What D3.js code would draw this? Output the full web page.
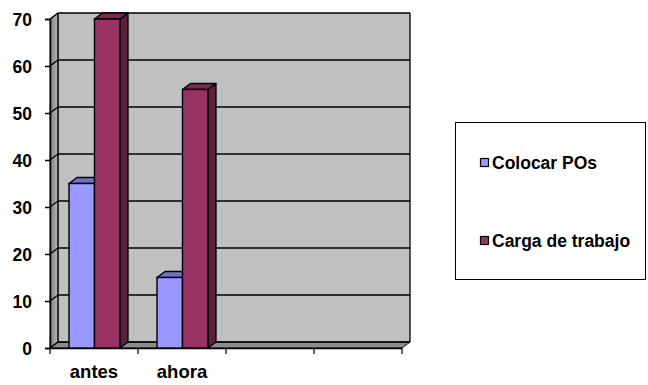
<!DOCTYPE html>
<html>
<head>
<meta charset="utf-8">
<script src="https://cdn.jsdelivr.net/npm/d3@7"></script>
<style>
  body { margin: 0; background: #fff; }
  text { font-family: "Liberation Sans", Arial, sans-serif; font-weight: bold; fill: #000; }
</style>
</head>
<body>
<svg id="chart" width="648" height="385"></svg>
<script>
// Chart data
const categories = ["antes", "ahora", "", ""];
const series = ["Colocar POs", "Carga de trabajo"];
const colocarPOs = [35, 15];
const cargaTrabajo = [70, 55];
const yTicks = [0, 10, 20, 30, 40, 50, 60, 70];

const colors = {
    "Colocar POs": { front: "#9999ff", top: "#7373c4", side: "#5c5ca0" },
    "Carga de trabajo": { front: "#993366", top: "#7a2952", side: "#5e1f3f" }
};

const svg = d3.select("#chart");

// 3D offset (depth)
const dx = 8, dy = -6;

let y = d3.scaleLinear().domain([0, 70]).range([348, 19]);
let x = d3.scaleBand().domain(d3.range(categories.length)).range([50, 402]);
let xSub = d3.scaleBand().domain(series).range([x.bandwidth() * 0.216, x.bandwidth() * 0.795]);

const left = x.range()[0], right = x.range()[1];

// gradient for the side wall
const defs = svg.append("defs");
const grad = defs.append("linearGradient").attr("id", "sideWall");
grad.append("stop").attr("offset", "0%").attr("stop-color", "#7c7c7c");
grad.append("stop").attr("offset", "100%").attr("stop-color", "#b8b8b8");

// Back wall
svg.append("rect")
    .attr("x", left + dx).attr("y", y(70) + dy)
    .attr("width", right - left).attr("height", y(0) - y(70))
    .attr("fill", "#c0c0c0");

// Side wall
svg.append("polygon")
    .attr("points", [[left, y(70)], [left + dx, y(70) + dy], [left + dx, y(0) + dy], [left, y(0)]].join(" "))
    .attr("fill", "url(#sideWall)")
    .attr("stroke", "#000").attr("stroke-width", 1);

// Floor
svg.append("polygon")
    .attr("points", [[left, y(0)], [left + dx, y(0) + dy], [right + dx, y(0) + dy], [right, y(0)]].join(" "))
    .attr("fill", "#8c8c8c")
    .attr("stroke", "#000").attr("stroke-width", 1);

// Gridlines (back wall + side wall)
yTicks.forEach(t => {
    svg.append("line")
        .attr("x1", left + dx).attr("x2", right + dx)
        .attr("y1", y(t) + dy).attr("y2", y(t) + dy)
        .attr("stroke", "#000").attr("stroke-width", 1.6);
    svg.append("line")
        .attr("x1", left).attr("x2", left + dx)
        .attr("y1", y(t)).attr("y2", y(t) + dy)
        .attr("stroke", "#000").attr("stroke-width", 1.3);
});

// Back wall edges
svg.append("line")
    .attr("x1", right + dx).attr("x2", right + dx)
    .attr("y1", y(70) + dy).attr("y2", y(0) + dy)
    .attr("stroke", "#000").attr("stroke-width", 1.3);
svg.append("line")
    .attr("x1", left + dx).attr("x2", left + dx)
    .attr("y1", y(70) + dy).attr("y2", y(0) + dy)
    .attr("stroke", "#000").attr("stroke-width", 1);

// Y axis
const yAxis = svg.append("g").attr("transform", `translate(${left},0)`)
    .call(d3.axisLeft(y).tickValues(yTicks).tickSize(5).tickPadding(13));
yAxis.attr("font-family", null).attr("font-size", null);
yAxis.select(".domain").attr("stroke-width", 1.5);
yAxis.selectAll(".tick line").attr("stroke-width", 1.5);
yAxis.selectAll("text").style("font-size", "17.5px").attr("fill", "#000").attr("dy", "0.36em");

// X axis
const xAxis = svg.append("g").attr("transform", `translate(0,${y(0)})`)
    .call(d3.axisBottom(x).tickValues([]).tickSizeOuter(0));
xAxis.attr("font-family", null).attr("font-size", null);
xAxis.select(".domain").attr("stroke-width", 1.5);
x.domain().concat([categories.length]).forEach(i => {
    const px = i < categories.length ? x(i) : right;
    xAxis.append("line").attr("x1", px).attr("x2", px).attr("y1", 1).attr("y2", 6)
        .attr("stroke", "#000").attr("stroke-width", 1.2);
});
xAxis.selectAll(".cat")
    .data(categories)
    .join("text")
    .attr("class", "cat")
    .attr("x", (d, i) => x(i) + x.bandwidth() / 2)
    .attr("y", 30)
    .attr("text-anchor", "middle")
    .style("font-size", "18.5px")
    .text(d => d);

// Bars
const values = { "Colocar POs": colocarPOs, "Carga de trabajo": cargaTrabajo };
const bars = svg.append("g");
categories.forEach((c, i) => {
    series.forEach(s => {
        const v = values[s][i];
        if (v === undefined) return;
        const x0 = x(i) + xSub(s), w = xSub.bandwidth();
        const yv = y(v), y0 = y(0);
        const col = colors[s];
        bars.append("polygon")
            .attr("points", [[x0 + w, yv], [x0 + w + dx, yv + dy], [x0 + w + dx, y0 + dy], [x0 + w, y0]].join(" "))
            .attr("fill", col.side).attr("stroke", "#000").attr("stroke-width", 1.4).attr("stroke-linejoin", "round");
        bars.append("polygon")
            .attr("points", [[x0, yv], [x0 + dx, yv + dy], [x0 + w + dx, yv + dy], [x0 + w, yv]].join(" "))
            .attr("fill", col.top).attr("stroke", "#000").attr("stroke-width", 1.4).attr("stroke-linejoin", "round");
        bars.append("rect")
            .attr("x", x0).attr("y", yv).attr("width", w).attr("height", y0 - yv)
            .attr("fill", col.front).attr("stroke", "#000").attr("stroke-width", 1.4);
    });
});

// Legend
const legend = svg.append("g");
legend.append("rect")
    .attr("x", 455.5).attr("y", 122.5).attr("width", 190).attr("height", 157)
    .attr("fill", "#fff").attr("stroke", "#000").attr("stroke-width", 1);
const legendY = d3.scalePoint().domain(series).range([163, 241]);
series.forEach(s => {
    legend.append("rect")
        .attr("x", 480.5).attr("y", legendY(s) - 4.5).attr("width", 8).attr("height", 8)
        .attr("fill", colors[s].front).attr("stroke", "#000").attr("stroke-width", 1.2);
    legend.append("text")
        .attr("x", 492).attr("y", legendY(s) + 6)
        .style("font-size", "17.5px")
        .text(s);
});
</script>
</body>
</html>
